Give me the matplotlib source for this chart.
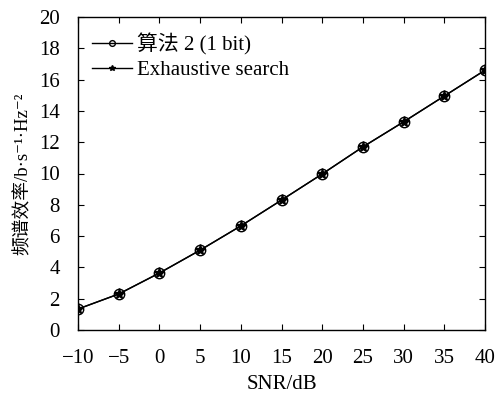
import matplotlib
matplotlib.use("Agg")
import matplotlib.pyplot as plt

snr_db = [-10, -5, 0, 5, 10, 15, 20, 25, 30, 35, 40]
alg2_1bit = [1.34, 2.3, 3.64, 5.1, 6.65, 8.3, 9.97, 11.7, 13.3, 14.95, 16.6]
exhaustive = [1.34, 2.3, 3.64, 5.1, 6.65, 8.3, 9.97, 11.7, 13.3, 14.95, 16.6]

xticks = [-10, -5, 0, 5, 10, 15, 20, 25, 30, 35, 40]
yticks = [0, 2, 4, 6, 8, 10, 12, 14, 16, 18, 20]

plt.rcParams['font.family'] = ['Liberation Serif', 'Noto Sans CJK SC', 'DejaVu Serif']
plt.rcParams['axes.unicode_minus'] = True

fig = plt.figure(figsize=(4.97, 3.96), dpi=100)
ax = fig.add_axes([78 / 497, 1 - 330 / 396, (485 - 78) / 497, (330 - 17) / 396])

ax.plot(snr_db, alg2_1bit, color='black', lw=1.0, marker='o', ms=7.5,
        mfc='none', mec='black', mew=1.0, label='算法 2 (1 bit)')
ax.plot(snr_db, exhaustive, color='black', lw=1.0, marker='*', ms=8,
        mfc='black', mec='black', label='Exhaustive search')

ax.set_xlim(-10, 40)
ax.set_ylim(0, 20)
ax.set_xticks(xticks)
ax.set_yticks(yticks)
ax.set_xticklabels(['\u2212' + str(-t) if t < 0 else str(t) for t in xticks])
ax.tick_params(direction='in', top=True, right=True, labelsize=15, length=4,
               width=0.8)
ax.tick_params(axis='x', pad=14)
ax.tick_params(axis='y', pad=13)
for s in ax.spines.values():
    s.set_linewidth(1.0)

ax.set_xlabel('SNR/dB', fontsize=15, labelpad=5)
ax.set_ylabel('频谱效率/b·s\u207b\u00b9·Hz\u207b\u00b2', fontsize=13.5, labelpad=5)

leg = ax.legend(loc='upper left', frameon=False, fontsize=15, handlelength=1.9,
                handletextpad=0.25, borderaxespad=0.0, labelspacing=0.25,
                markerscale=0.55, bbox_to_anchor=(0.015, 0.975))

fig.savefig('out.png', dpi=100)
